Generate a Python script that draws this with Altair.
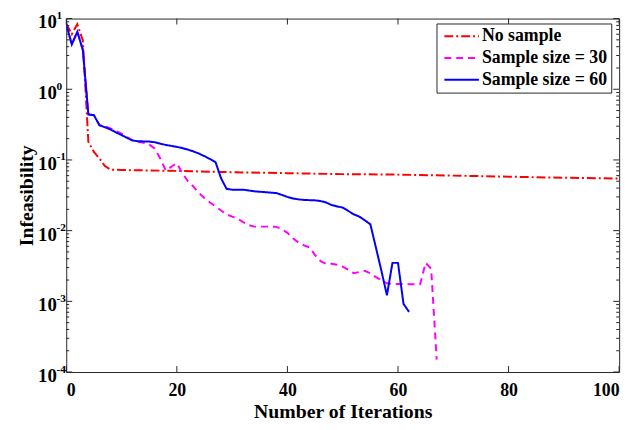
import altair as alt
import pandas as pd

series_names = ["No sample", "Sample size = 30", "Sample size = 60"]
series_colors = ["#ff0000", "#ff00ff", "#0000ff"]
series_dashes = [[9, 3, 2, 3], [7, 5], [1, 0]]

it_none = [0, 1, 2, 3, 4, 5, 6, 7, 8, 10, 20, 30, 40, 50, 60, 70, 80, 90, 100]
val_none = [8.5, 6.0, 8.3, 4.9, 0.18, 0.13, 0.105, 0.082, 0.073, 0.072, 0.070, 0.067,
            0.065, 0.063, 0.062, 0.060, 0.058, 0.056, 0.0545]

it_30 = list(range(0, 68))
val_30 = [8.3, 4.3, 6.5, 3.6, 0.44, 0.43, 0.31, 0.30, 0.28, 0.255,
          0.235, 0.21, 0.19, 0.18, 0.175, 0.165, 0.145, 0.105, 0.071, 0.08,
          0.09, 0.065, 0.05, 0.042, 0.034, 0.029, 0.025, 0.022, 0.0193, 0.017,
          0.0158, 0.0148, 0.0132, 0.012, 0.0114, 0.0114, 0.0114, 0.0114, 0.0113, 0.0105,
          0.0093, 0.0078, 0.0068, 0.0062, 0.0058, 0.0045, 0.0037, 0.0034, 0.0034, 0.0033,
          0.0031, 0.0028, 0.0025, 0.0026, 0.0027, 0.0025, 0.0022, 0.0020, 0.0018, 0.00177,
          0.00176, 0.00176, 0.00175, 0.00175, 0.00174, 0.0035, 0.0029, 0.00015]

it_60 = list(range(0, 63))
val_60 = [8.3, 4.3, 6.5, 3.6, 0.44, 0.43, 0.31, 0.29, 0.27, 0.245,
          0.225, 0.205, 0.188, 0.184, 0.183, 0.182, 0.178, 0.17, 0.163, 0.158,
          0.153, 0.147, 0.14, 0.132, 0.123, 0.113, 0.103, 0.093, 0.055, 0.039,
          0.038, 0.038, 0.038, 0.037, 0.036, 0.0355, 0.035, 0.0345, 0.034, 0.032,
          0.030, 0.0285, 0.0277, 0.0272, 0.027, 0.0268, 0.0262, 0.025, 0.023, 0.022,
          0.0212, 0.019, 0.017, 0.0158, 0.014, 0.0123, 0.0058, 0.0027, 0.00122, 0.0035,
          0.0035, 0.00092, 0.00071]

x_ticks = [0, 20, 40, 60, 80, 100]
y_major = [1e-4, 1e-3, 1e-2, 1e-1, 1e0, 1e1]
y_exps = ["-4", "-3", "-2", "-1", "0", "1"]
y_minor = [k * 10.0 ** e for e in range(-4, 1) for k in range(2, 10)]

W, H = 560, 358
FONT = "Liberation Serif"
AX = "#262626"

rows = []
for name, its, vals in [(series_names[0], it_none, val_none),
                        (series_names[1], it_30, val_30),
                        (series_names[2], it_60, val_60)]:
    for i, v in zip(its, vals):
        rows.append({"it": i, "val": v, "series": name})
df = pd.DataFrame(rows)

xs = alt.Scale(domain=[0, 100], nice=False, zero=False)
ys = alt.Scale(type="log", domain=[1e-4, 10], nice=False)

legend = alt.Legend(
    title=None, orient="none", legendX=375, legendY=5,
    symbolType="M-1,0H6", symbolSize=100, symbolStrokeWidth=2,
    labelFont=FONT, labelFontSize=18, labelFontWeight="bold", labelColor="#000",
    labelOffset=24, strokeColor=AX, fillColor="white", padding=4, rowPadding=4,
    cornerRadius=0,
)

lines = alt.Chart(df).mark_line(strokeWidth=2, clip=True).encode(
    x=alt.X("it:Q", scale=xs, axis=alt.Axis(
        values=x_ticks, title="Number of Iterations", ticks=False, tickSize=0,
        domain=False, grid=False, labelPadding=10, titlePadding=2,
        labelFontSize=18, titleFontSize=20)),
    y=alt.Y("val:Q", scale=ys, axis=alt.Axis(
        values=y_major, labelExpr="'10'", title="Infeasibility", ticks=False, tickSize=0,
        domain=False, grid=False, labelPadding=10, labelOffset=3.5, titlePadding=1,
        labelFontSize=19, titleFontSize=20)),
    color=alt.Color("series:N", scale=alt.Scale(domain=series_names, range=series_colors),
                    legend=legend, sort=series_names),
    strokeDash=alt.StrokeDash("series:N", scale=alt.Scale(domain=series_names, range=series_dashes),
                              legend=legend, sort=series_names),
)

exp_df = pd.DataFrame({"val": y_major, "t": y_exps})
exps = alt.Chart(exp_df).mark_text(
    align="left", baseline="middle", dy=-2.5, fontSize=11.5, fontWeight="bold", font=FONT, color="#000"
).encode(x=alt.value(-10), y=alt.Y("val:Q", scale=ys), text="t:N")

maj_df = pd.DataFrame({"val": y_major})
min_df = pd.DataFrame({"val": y_minor})
xt_df = pd.DataFrame({"it": x_ticks})

def yticks(data, length):
    left = alt.Chart(data).mark_rule(color=AX, strokeWidth=1).encode(
        y=alt.Y("val:Q", scale=ys), x=alt.value(0), x2=alt.value(length))
    right = alt.Chart(data).mark_rule(color=AX, strokeWidth=1).encode(
        y=alt.Y("val:Q", scale=ys), x=alt.value(W - length), x2=alt.value(W))
    return [left, right]

xt_bottom = alt.Chart(xt_df).mark_rule(color=AX, strokeWidth=1).encode(
    x=alt.X("it:Q", scale=xs), y=alt.value(H - 6), y2=alt.value(H))
xt_top = alt.Chart(xt_df).mark_rule(color=AX, strokeWidth=1).encode(
    x=alt.X("it:Q", scale=xs), y=alt.value(0), y2=alt.value(6))

chart = alt.layer(
    lines, exps, *yticks(maj_df, 6), *yticks(min_df, 3), xt_bottom, xt_top
).properties(
    width=W, height=H,
    autosize=alt.AutoSizeParams(type="none"),
    padding={"left": 59, "top": 8, "right": 12, "bottom": 54},
).configure_view(
    stroke=AX, strokeWidth=1
).configure_axis(
    labelFont=FONT, titleFont=FONT, labelFontWeight="bold", titleFontWeight="bold",
    labelColor="#000", titleColor="#000",
)

chart.save("out.html", embed_options={"renderer": "svg", "actions": False})
